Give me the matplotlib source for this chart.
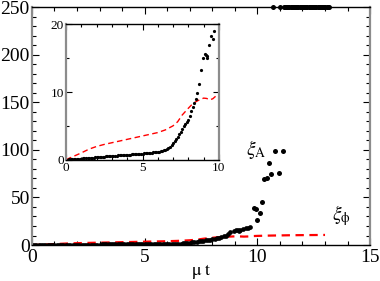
import numpy as np
import matplotlib
matplotlib.use("Agg")
import matplotlib.pyplot as plt
from matplotlib.ticker import MultipleLocator

plt.rcParams['font.family'] = ['Liberation Serif', 'DejaVu Serif']
plt.rcParams['mathtext.fontset'] = 'stix'
plt.rcParams['lines.scale_dashes'] = False

# xi_A (black dots), regular part t = 0.0 .. 8.7 step 0.1
t_a = [round(0.1 * i, 1) for i in range(88)] + [8.8, 8.95, 9.07, 9.16, 9.2, 9.24, 9.37, 9.48, 9.59, 9.69]
xi_a = [0.00, 0.01, 0.02, 0.03, 0.04, 0.05, 0.07, 0.09, 0.11, 0.13,
        0.15, 0.17, 0.19, 0.21, 0.23, 0.25, 0.27, 0.29, 0.31, 0.33,
        0.35, 0.37, 0.39, 0.41, 0.43, 0.45, 0.47, 0.49, 0.51, 0.53,
        0.55, 0.56, 0.58, 0.59, 0.61, 0.62, 0.64, 0.65, 0.67, 0.68,
        0.70, 0.72, 0.74, 0.76, 0.78, 0.80, 0.82, 0.84, 0.86, 0.88,
        0.90, 0.92, 0.94, 0.96, 0.98, 1.00, 1.03, 1.06, 1.09, 1.12,
        1.15, 1.19, 1.24, 1.30, 1.37, 1.46, 1.56, 1.70, 1.90, 2.12,
        2.40, 2.70, 3.00, 3.35, 3.75, 4.15, 4.55, 4.90, 5.25, 5.55,
        5.90, 6.40, 7.15, 7.75, 8.40, 9.00, 9.85, 11.2,
        13.2, 15.1, 15.7, 15.5, 15.0, 15.3, 17.0, 18.3, 17.9, 19.1]

# scattered late values of xi_A
t_late = [9.84, 9.94, 10.0, 10.13, 10.2, 10.31, 10.43, 10.5, 10.61, 10.8, 10.95, 11.12]
xi_late = [38.5, 37.5, 26.3, 34.0, 45.5, 69.0, 70.0, 86.5, 74.3, 98.7, 76.0, 98.7]

# values beyond the axis top (drawn at 250)
t_top = [10.68, 11.02] + [round(11.17 + 0.05 * i, 2) for i in range(41)]
xi_top = [250] * len(t_top)

# xi_phi (red dashed)
t_phi = [0.0, 0.5, 1.0, 1.5, 2.0, 2.5, 3.0, 3.5, 4.0, 4.5, 5.0, 5.5, 6.0, 6.5, 7.0, 7.3,
         7.6, 8.0, 8.3, 8.6, 9.0, 9.2, 9.4, 9.6, 9.8, 10.0, 10.5, 11.0, 11.5, 12.0, 12.5, 13.0]
xi_phi = [0.0, 0.5, 1.0, 1.55, 1.95, 2.25, 2.5, 2.75, 3.0, 3.25, 3.5, 3.75, 4.0, 4.4, 5.0, 5.6,
          6.6, 7.6, 8.3, 8.7, 9.1, 9.05, 8.85, 9.0, 9.4, 9.6, 9.9, 10.1, 10.3, 10.4, 10.5, 10.6]


def style_axes(ax, size, major_len, minor_len):
    for s in ['left', 'right']:
        ax.spines[s].set_color('#8c8c8c')
        ax.spines[s].set_linewidth(1.6)
    for s in ['top', 'bottom']:
        ax.spines[s].set_color('black')
        ax.spines[s].set_linewidth(1.0)
    ax.tick_params(which='both', direction='in', top=True, right=True,
                   labelsize=size, pad=1.5, width=0.8, colors='black')
    ax.tick_params(which='major', length=major_len)
    ax.tick_params(which='minor', length=minor_len)


fig = plt.figure(figsize=(3.8, 2.81), dpi=100)
ax = fig.add_axes([0.084, 0.128, 0.89, 0.847])

ax.plot(t_phi, xi_phi, color='red', lw=1.6, dashes=(6, 4))
ax.plot(t_a, xi_a, 'o', color='black', ms=3.4, mec='none')
ax.plot(t_late, xi_late, 'o', color='black', ms=3.6, mec='none')
ax.plot(t_top, xi_top, 'o', color='black', ms=3.6, mec='none', clip_on=False)

ax.set_xlim(0, 15)
ax.set_ylim(0, 250)
ax.xaxis.set_major_locator(MultipleLocator(5))
ax.xaxis.set_minor_locator(MultipleLocator(1))
ax.yaxis.set_major_locator(MultipleLocator(50))
ax.yaxis.set_minor_locator(MultipleLocator(10))
style_axes(ax, 14, 5, 3)
ax.tick_params(axis='x', pad=2.5)
ax.set_xlabel(r'$\mathrm{\mu\ t}$', fontsize=13, labelpad=-2.5)

ax.text(9.5, 100, r'$\xi_{\mathrm{A}}$', fontsize=14, ha='left', va='center')
ax.text(13.3, 31, r'$\xi_{\mathrm{\phi}}$', fontsize=14, ha='left', va='center')

# inset
ins = fig.add_axes([0.174, 0.432, 0.402, 0.481])
ins.plot(t_phi, xi_phi, color='red', lw=1.0, dashes=(4, 2.5))
ins.plot(t_a, xi_a, 'o', color='black', ms=2.3, mec='none')
ins.plot(t_late, xi_late, 'o', color='black', ms=2.3, mec='none')
ins.set_xlim(0, 10)
ins.set_ylim(0, 20)
ins.xaxis.set_major_locator(MultipleLocator(5))
ins.xaxis.set_minor_locator(MultipleLocator(1))
ins.yaxis.set_major_locator(MultipleLocator(10))
ins.yaxis.set_minor_locator(MultipleLocator(5))
style_axes(ins, 9.5, 4, 2.5)

fig.savefig('out.png', dpi=100)
